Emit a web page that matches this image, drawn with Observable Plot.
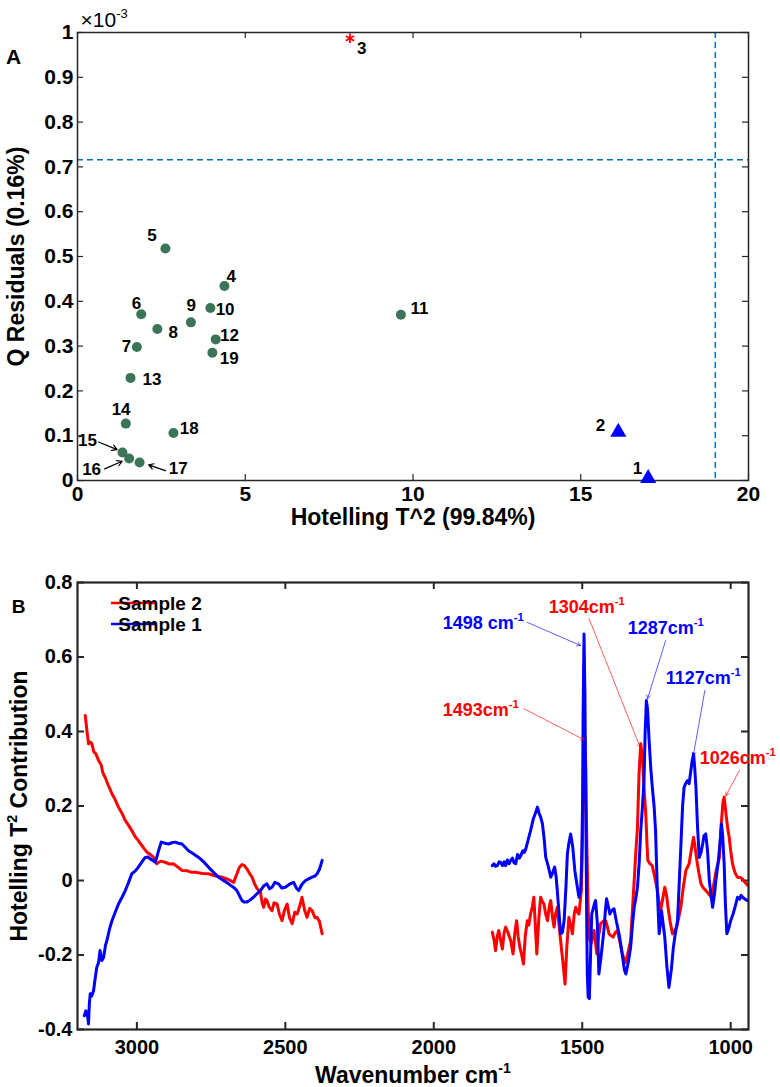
<!DOCTYPE html>
<html>
<head>
<meta charset="utf-8">
<script src="https://cdn.jsdelivr.net/npm/d3@7"></script>
<script src="https://cdn.jsdelivr.net/npm/@observablehq/plot@0.6"></script>
<style>
  html, body { margin: 0; padding: 0; background: #fff; }
  #chart { width: 780px; }
  #chart svg { display: block; }
</style>
</head>
<body>
<div id="chart"></div>
<script>
// ---------------- Panel A data ----------------
const sampleIds   = [1, 2, 3, 4, 5, 6, 7, 8, 9, 10, 11, 12, 13, 14, 15, 16, 17, 18, 19];
const hotellingT2 = [17.01, 16.12, 8.12, 4.38, 2.62, 1.90, 1.77, 2.38, 3.38, 3.96, 9.64, 4.12, 1.58, 1.44, 1.34, 1.54, 1.85, 2.86, 4.02];
const qResiduals  = [0.005, 0.108, 0.987, 0.434, 0.518, 0.371, 0.298, 0.338, 0.353, 0.385, 0.370, 0.315, 0.229, 0.127, 0.0625, 0.049, 0.040, 0.106, 0.285];
const sampleClass = ["T2", "T2", "Q", "in", "in", "in", "in", "in", "in", "in", "in", "in", "in", "in", "in", "in", "in", "in", "in"];
const labelT2     = [16.69, 15.59, 8.47, 4.58, 2.22, 1.76, 1.46, 2.85, 3.39, 4.40, 10.19, 4.53, 2.22, 1.30, 0.30, 0.42, 3.00, 3.33, 4.52];
const labelQ      = [0.026, 0.123, 0.964, 0.455, 0.547, 0.394, 0.299, 0.331, 0.391, 0.382, 0.383, 0.324, 0.225, 0.159, 0.089, 0.025, 0.027, 0.115, 0.272];
const calloutIds    = [15, 16, 17];
const calloutFromT2 = [0.63, 0.81, 2.62];
const calloutFromQ  = [0.086, 0.026, 0.022];
const calloutToT2   = [1.18, 1.33, 2.12];
const calloutToQ    = [0.069, 0.043, 0.035];
const qLimit  = 0.716;
const t2Limit = 19.01;
const xTicksA = [0, 5, 10, 15, 20];
const yTicksA = [0, 0.1, 0.2, 0.3, 0.4, 0.5, 0.6, 0.7, 0.8, 0.9, 1];

// ---------------- Panel B data (wavenumber, contribution) ----------------
const sample2Left = [[3174,0.443],[3172,0.429],[3168,0.40],[3163,0.367],[3158,0.372],[3152,0.368],[3145,0.345],[3138,0.34],[3129,0.322],[3120,0.31],[3115,0.29],[3107,0.277],[3096,0.255],[3084,0.233],[3075,0.22],[3062,0.197],[3050,0.18],[3039,0.161],[3028,0.148],[3017,0.134],[3006,0.118],[2995,0.107],[2980,0.09],[2966,0.076],[2955,0.07],[2944,0.062],[2933,0.045],[2920,0.052],[2905,0.049],[2890,0.044],[2877,0.045],[2862,0.036],[2848,0.027],[2830,0.026],[2815,0.022],[2803,0.022],[2780,0.019],[2759,0.018],[2735,0.012],[2713,0.009],[2690,0.002],[2674,-0.005],[2663,0.018],[2655,0.035],[2646,0.043],[2638,0.040],[2629,0.031],[2620,0.018],[2612,0.009],[2603,-0.01],[2595,-0.022],[2584,-0.031],[2578,-0.06],[2573,-0.072],[2567,-0.05],[2562,-0.054],[2555,-0.07],[2545,-0.081],[2538,-0.06],[2528,-0.063],[2520,-0.09],[2511,-0.108],[2503,-0.08],[2494,-0.063],[2486,-0.1],[2477,-0.116],[2468,-0.085],[2460,-0.09],[2452,-0.07],[2444,-0.045],[2435,-0.08],[2427,-0.099],[2418,-0.075],[2410,-0.081],[2400,-0.1],[2393,-0.099],[2385,-0.11],[2376,-0.143]];
const sample2Right = [[1803,-0.139],[1797,-0.16],[1792,-0.188],[1786,-0.15],[1781,-0.134],[1775,-0.16],[1769,-0.184],[1763,-0.14],[1758,-0.125],[1750,-0.14],[1741,-0.161],[1733,-0.197],[1727,-0.14],[1721,-0.108],[1716,-0.15],[1710,-0.179],[1704,-0.2],[1698,-0.224],[1692,-0.15],[1685,-0.108],[1680,-0.12],[1674,-0.09],[1668,-0.07],[1663,-0.045],[1658,-0.12],[1653,-0.197],[1646,-0.1],[1640,-0.045],[1635,-0.055],[1629,-0.063],[1623,-0.09],[1617,-0.108],[1611,-0.07],[1606,-0.054],[1600,-0.1],[1595,-0.125],[1590,-0.09],[1584,-0.072],[1578,-0.12],[1573,-0.161],[1565,-0.22],[1558,-0.278],[1552,-0.18],[1545,-0.099],[1539,-0.12],[1533,-0.143],[1527,-0.09],[1522,-0.072],[1516,-0.085],[1511,-0.09],[1506,-0.05],[1503,-0.027],[1498,0.15],[1494,0.33],[1491,0.385],[1488,0.30],[1485,0.12],[1481,-0.05],[1477,-0.152],[1470,-0.17],[1465,-0.15],[1460,-0.134],[1455,-0.17],[1451,-0.197],[1445,-0.15],[1438,-0.116],[1430,-0.11],[1421,-0.108],[1415,-0.125],[1410,-0.143],[1403,-0.148],[1396,-0.152],[1389,-0.14],[1382,-0.134],[1374,-0.16],[1365,-0.197],[1359,-0.21],[1353,-0.22],[1345,-0.19],[1337,-0.161],[1331,-0.08],[1325,0.0],[1320,0.07],[1314,0.143],[1309,0.28],[1303,0.367],[1297,0.33],[1292,0.25],[1286,0.179],[1282,0.10],[1279,0.054],[1272,0.045],[1264,0.040],[1256,0.01],[1247,-0.027],[1241,-0.06],[1236,-0.081],[1229,-0.05],[1222,-0.018],[1216,-0.04],[1211,-0.072],[1204,-0.11],[1196,-0.143],[1189,-0.135],[1182,-0.125],[1175,-0.1],[1168,-0.072],[1160,-0.02],[1151,0.027],[1146,0.035],[1140,0.045],[1133,0.08],[1125,0.116],[1120,0.09],[1114,0.054],[1107,0.02],[1100,-0.009],[1092,-0.02],[1084,-0.027],[1075,-0.035],[1065,-0.045],[1057,-0.01],[1049,0.027],[1043,0.045],[1038,0.062],[1032,0.15],[1026,0.21],[1022,0.224],[1016,0.18],[1010,0.14],[1005,0.116],[1000,0.08],[994,0.045],[985,0.02],[977,0.009],[968,0.008],[960,0.004],[952,-0.005],[943,-0.013]];
const sample1Left = [[3177,-0.363],[3172,-0.35],[3169,-0.354],[3165,-0.37],[3163,-0.385],[3160,-0.33],[3157,-0.304],[3152,-0.31],[3146,-0.296],[3140,-0.26],[3135,-0.233],[3129,-0.22],[3124,-0.188],[3118,-0.215],[3112,-0.206],[3106,-0.175],[3101,-0.161],[3092,-0.13],[3084,-0.108],[3073,-0.085],[3062,-0.063],[3050,-0.045],[3039,-0.027],[3028,-0.005],[3017,0.018],[3006,0.025],[2995,0.036],[2983,0.05],[2972,0.062],[2963,0.063],[2955,0.058],[2945,0.053],[2938,0.049],[2932,0.065],[2927,0.08],[2918,0.103],[2905,0.1],[2893,0.098],[2880,0.102],[2871,0.103],[2860,0.1],[2848,0.098],[2838,0.09],[2826,0.08],[2810,0.072],[2792,0.062],[2775,0.05],[2759,0.036],[2742,0.022],[2725,0.009],[2708,0.0],[2691,-0.009],[2675,-0.018],[2663,-0.027],[2655,-0.04],[2646,-0.054],[2638,-0.058],[2629,-0.058],[2618,-0.052],[2607,-0.045],[2595,-0.035],[2584,-0.027],[2573,-0.015],[2562,-0.009],[2553,-0.022],[2545,-0.018],[2535,-0.005],[2523,-0.009],[2512,-0.02],[2500,-0.018],[2486,-0.01],[2472,-0.005],[2463,-0.02],[2455,-0.027],[2444,-0.01],[2432,0.0],[2420,0.005],[2410,0.009],[2400,0.012],[2393,0.018],[2385,0.03],[2376,0.054]];
const sample1Right = [[1803,0.040],[1797,0.045],[1792,0.038],[1786,0.040],[1780,0.05],[1775,0.049],[1769,0.04],[1763,0.05],[1758,0.040],[1752,0.055],[1746,0.045],[1741,0.054],[1735,0.06],[1730,0.048],[1724,0.045],[1718,0.07],[1712,0.06],[1707,0.067],[1700,0.08],[1695,0.075],[1690,0.085],[1682,0.11],[1674,0.134],[1665,0.165],[1658,0.18],[1651,0.197],[1645,0.18],[1640,0.17],[1634,0.152],[1628,0.11],[1623,0.062],[1615,0.04],[1606,0.009],[1600,0.02],[1593,0.036],[1588,0.01],[1584,-0.027],[1578,-0.09],[1573,-0.143],[1567,-0.14],[1561,-0.108],[1555,-0.02],[1550,0.072],[1545,0.1],[1539,0.125],[1532,0.09],[1525,0.027],[1518,-0.01],[1511,-0.045],[1505,-0.02],[1502,0.05],[1499,0.2],[1497,0.45],[1494,0.662],[1491,0.5],[1488,0.2],[1485,-0.1],[1483,-0.25],[1480,-0.313],[1476,-0.317],[1472,-0.2],[1468,-0.09],[1462,-0.072],[1458,-0.06],[1455,-0.054],[1449,-0.116],[1444,-0.251],[1436,-0.2],[1427,-0.134],[1422,-0.08],[1418,-0.049],[1412,-0.07],[1407,-0.090],[1400,-0.08],[1393,-0.076],[1385,-0.11],[1376,-0.143],[1365,-0.2],[1358,-0.24],[1353,-0.251],[1345,-0.22],[1337,-0.179],[1331,-0.12],[1325,-0.072],[1318,-0.04],[1314,-0.018],[1308,0.05],[1303,0.134],[1297,0.2],[1292,0.268],[1288,0.4],[1284,0.483],[1280,0.46],[1275,0.38],[1269,0.30],[1264,0.25],[1258,0.2],[1253,0.134],[1250,0.05],[1247,-0.027],[1241,-0.143],[1236,-0.11],[1233,-0.081],[1227,-0.12],[1222,-0.152],[1215,-0.23],[1208,-0.287],[1200,-0.24],[1193,-0.179],[1186,-0.14],[1179,-0.108],[1173,0.0],[1168,0.089],[1162,0.2],[1157,0.250],[1152,0.26],[1146,0.268],[1140,0.26],[1135,0.29],[1130,0.32],[1125,0.340],[1121,0.3],[1117,0.250],[1112,0.15],[1106,0.062],[1100,0.075],[1094,0.1],[1090,0.12],[1084,0.125],[1078,0.08],[1072,0.0],[1066,-0.04],[1061,-0.072],[1055,-0.04],[1050,0.0],[1047,0.018],[1042,0.05],[1036,0.1],[1031,0.152],[1027,0.12],[1022,0.045],[1018,-0.06],[1013,-0.143],[1007,-0.13],[1000,-0.108],[992,-0.09],[985,-0.07],[977,-0.045],[970,-0.05],[965,-0.04],[960,-0.045],[952,-0.05],[943,-0.054]];
const seriesNames  = ["Sample 2", "Sample 1"];
const seriesColors = ["#ff0000", "#0000ff"];
const peakLabels   = ["1498 cm⁻¹", "1493cm⁻¹", "1304cm⁻¹", "1287cm⁻¹", "1127cm⁻¹", "1026cm⁻¹"];
const peakSeries   = ["Sample 1", "Sample 2", "Sample 2", "Sample 1", "Sample 1", "Sample 2"];
const peakTextWn   = [1970, 1970, 1613, 1347, 1219, 1104];
const peakTextV    = [0.690, 0.456, 0.733, 0.676, 0.542, 0.327];
const arrowFromWn  = [1685, 1696, 1477, 1219, 1087, 971];
const arrowFromV   = [0.693, 0.461, 0.703, 0.644, 0.510, 0.295];
const arrowToWn    = [1506, 1494, 1305, 1280, 1126, 1016];
const arrowToV     = [0.631, 0.378, 0.358, 0.488, 0.335, 0.228];
const xTicksB = [3000, 2500, 2000, 1500, 1000];
const yTicksB = [-0.4, -0.2, 0, 0.2, 0.4, 0.6, 0.8];

// ---------------- build tables ----------------
const points = sampleIds.map((id, i) => ({id, t2: hotellingT2[i], q: qResiduals[i], cls: sampleClass[i], lx: labelT2[i], ly: labelQ[i]}));
const callouts = calloutIds.map((id, i) => ({id, x1: calloutFromT2[i], y1: calloutFromQ[i], x2: calloutToT2[i], y2: calloutToQ[i]}));
const spectra = [];
[[sample2Left, "Sample 2", "L"], [sample2Right, "Sample 2", "R"], [sample1Left, "Sample 1", "L"], [sample1Right, "Sample 1", "R"]]
  .forEach(([arr, s, seg]) => arr.forEach(([wn, v]) => spectra.push({wn, v, series: s, seg: s + seg})));
const peaks = peakLabels.map((label, i) => ({label, series: peakSeries[i], tx: peakTextWn[i], ty: peakTextV[i], x1: arrowFromWn[i], y1: arrowFromV[i], x2: arrowToWn[i], y2: arrowToV[i]}));
const colorOf = s => seriesColors[seriesNames.indexOf(s)];

const FONT = "'Liberation Sans', Arial, Helvetica, sans-serif";
const W = 780;

// ---------------- Panel A ----------------
const A = {h: 520, mt: 32, mb: 40, ml: 77, mr: 32};
const fhA = A.h - A.mt - A.mb, fwA = W - A.ml - A.mr;
const plotA = Plot.plot({
  width: W, height: A.h,
  marginTop: A.mt, marginBottom: A.mb, marginLeft: A.ml, marginRight: A.mr,
  style: {fontFamily: FONT, fontWeight: "bold", fontSize: "21px", background: "#fff", color: "#000", overflow: "visible"},
  x: {domain: [0, 20]},
  y: {domain: [0, 1]},
  marks: [
    Plot.ruleY([qLimit], {stroke: "#0072bd", strokeWidth: 1.5, strokeDasharray: "6,4"}),
    Plot.ruleX([t2Limit], {stroke: "#0072bd", strokeWidth: 1.5, strokeDasharray: "6,4"}),
    Plot.tickX(xTicksA, {x: d => d, insetTop: fhA - 6, stroke: "#262626", strokeWidth: 1.2}),
    Plot.tickX(xTicksA, {x: d => d, insetBottom: fhA - 6, stroke: "#262626", strokeWidth: 1.2}),
    Plot.tickY(yTicksA, {y: d => d, insetRight: fwA - 6, stroke: "#262626", strokeWidth: 1.2}),
    Plot.tickY(yTicksA, {y: d => d, insetLeft: fwA - 6, stroke: "#262626", strokeWidth: 1.2}),
    Plot.axisX({ticks: xTicksA, tickSize: 0, tickPadding: 6, label: null, tickFormat: d => String(d), fontSize: 21}),
    Plot.axisY({ticks: yTicksA, tickSize: 0, tickPadding: 4, label: null, tickFormat: d => String(d), fontSize: 21}),
    Plot.frame({stroke: "#262626", strokeWidth: 1.5}),
    Plot.dot(points.filter(d => d.cls === "in"), {x: "t2", y: "q", r: 5, fill: "#3b7457", stroke: "none"}),
    Plot.dot(points.filter(d => d.cls === "T2"), {x: "t2", y: "q", r: 6, symbol: "triangle", fill: "#0000ff", stroke: "none"}),
    Plot.dot(points.filter(d => d.cls === "Q"), {x: "t2", y: "q", r: 4.5, symbol: "asterisk", stroke: "#ff0000", strokeWidth: 1.8}),
    Plot.text(points, {x: "lx", y: "ly", text: d => String(d.id), fontSize: 17, fill: "#000"}),
    Plot.arrow(callouts, {x1: "x1", y1: "y1", x2: "x2", y2: "y2", stroke: "#000", strokeWidth: 1.2, headLength: 7}),
    Plot.text(["A"], {frameAnchor: "top-left", dx: -64, dy: 25, textAnchor: "middle", lineAnchor: "middle", fontSize: 21, text: d => d}),
    Plot.text(["×10⁻³"], {frameAnchor: "top-left", dx: 3, dy: -12, textAnchor: "start", lineAnchor: "middle", fontSize: 21, fontWeight: "normal", text: d => d}),
    Plot.text(["Hotelling T^2 (99.84%)"], {frameAnchor: "bottom", dy: 37, textAnchor: "middle", lineAnchor: "middle", fontSize: 23, text: d => d}),
    Plot.text(["Q Residuals (0.16%)"], {frameAnchor: "left", dx: -61, rotate: -90, textAnchor: "middle", lineAnchor: "middle", fontSize: 23, text: d => d})
  ]
});

// ---------------- Panel B ----------------
const B = {h: 567, mt: 62, mb: 58, ml: 77, mr: 32};
const fhB = B.h - B.mt - B.mb, fwB = W - B.ml - B.mr;
const plotB = Plot.plot({
  width: W, height: B.h,
  marginTop: B.mt, marginBottom: B.mb, marginLeft: B.ml, marginRight: B.mr,
  style: {fontFamily: FONT, fontWeight: "bold", fontSize: "20px", background: "#fff", color: "#000", overflow: "visible"},
  x: {domain: [3200, 940]},
  y: {domain: [-0.4, 0.8]},
  marks: [
    Plot.tickX(xTicksB, {x: d => d, insetTop: fhB - 7, stroke: "#262626", strokeWidth: 2}),
    Plot.tickX(xTicksB, {x: d => d, insetBottom: fhB - 7, stroke: "#262626", strokeWidth: 2}),
    Plot.tickY(yTicksB, {y: d => d, insetRight: fwB - 7, stroke: "#262626", strokeWidth: 2}),
    Plot.tickY(yTicksB, {y: d => d, insetLeft: fwB - 7, stroke: "#262626", strokeWidth: 2}),
    Plot.axisX({ticks: xTicksB, tickSize: 0, tickPadding: 10, label: null, tickFormat: d => String(d), fontSize: 20}),
    Plot.axisY({ticks: yTicksB, tickSize: 0, tickPadding: 5, label: null, tickFormat: d => String(d), fontSize: 20}),
    Plot.line(spectra.filter(d => d.series === "Sample 2"), {x: "wn", y: "v", z: "seg", stroke: colorOf("Sample 2"), strokeWidth: 3}),
    Plot.line(spectra.filter(d => d.series === "Sample 1"), {x: "wn", y: "v", z: "seg", stroke: colorOf("Sample 1"), strokeWidth: 3}),
    Plot.frame({stroke: "#262626", strokeWidth: 2.2}),
    Plot.arrow(peaks, {x1: "x1", y1: "y1", x2: "x2", y2: "y2", stroke: d => colorOf(d.series), strokeWidth: 0.8, headLength: 7, strokeOpacity: 0.8}),
    Plot.text(peaks, {x: "tx", y: "ty", text: "label", textAnchor: "start", fill: d => colorOf(d.series), fontSize: 18}),
    Plot.text(["B"], {frameAnchor: "top-left", dx: -59, dy: 24, textAnchor: "middle", lineAnchor: "middle", fontSize: 19, text: d => d}),
    Plot.text(["Wavenumber cm⁻¹"], {frameAnchor: "bottom", dy: 46, textAnchor: "middle", lineAnchor: "middle", fontSize: 23, text: d => d}),
    Plot.text(["Hotelling T² Contribution"], {frameAnchor: "left", dx: -58, rotate: -90, textAnchor: "middle", lineAnchor: "middle", fontSize: 23, text: d => d})
  ]
});

const chart = document.getElementById("chart");
chart.appendChild(plotA);
chart.appendChild(plotB);

// legend for panel B
const lg = d3.select(plotB).append("g").attr("font-size", 19).attr("font-weight", "bold").attr("font-family", FONT);
seriesNames.forEach((s, i) => {
  const y = 83 + i * 21;
  lg.append("line").attr("x1", 111).attr("x2", 155).attr("y1", y).attr("y2", y).attr("stroke", seriesColors[i]).attr("stroke-width", 2.6);
  lg.append("text").attr("x", 160).attr("y", y).attr("dy", "0.35em").text(s);
});

// superscripts as real tspans
function supify(svg) {
  const supMap = {"⁻": "-", "¹": "1", "²": "2", "³": "3"};
  const test = /[⁻¹²³]/;
  svg.querySelectorAll("text").forEach(t => {
    const targets = t.querySelector("tspan") ? [...t.querySelectorAll("tspan")] : [t];
    targets.forEach(el => {
      const s = el.textContent;
      if (!test.test(s)) return;
      const fs = parseFloat(getComputedStyle(el).fontSize) || 20;
      const parts = s.split(/([⁻¹²³]+)/).filter(p => p.length);
      el.textContent = "";
      let shifted = false;
      parts.forEach(p => {
        const ts = document.createElementNS("http://www.w3.org/2000/svg", "tspan");
        if (/^[⁻¹²³]+$/.test(p)) {
          ts.textContent = [...p].map(c => supMap[c]).join("");
          ts.setAttribute("font-size", (fs * 0.62).toFixed(1));
          ts.setAttribute("dy", (-fs * 0.45).toFixed(1));
          shifted = true;
        } else {
          ts.textContent = p;
          if (shifted) { ts.setAttribute("dy", (fs * 0.45).toFixed(1)); shifted = false; }
        }
        el.appendChild(ts);
      });
    });
  });
}
supify(plotA);
supify(plotB);
</script>
</body>
</html>
